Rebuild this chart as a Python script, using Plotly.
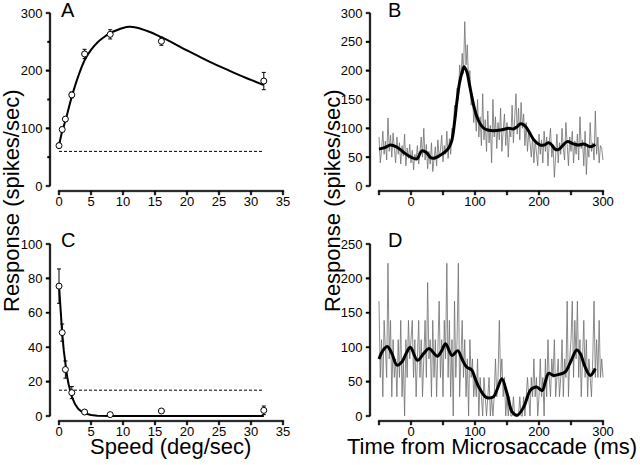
import plotly.graph_objects as go

# ---------------- data ----------------
# Panel A: speed tuning (excitatory)
speed = [0, 0.5, 1, 2, 4, 8, 16, 32]
a_resp = [70, 98, 116, 158, 229, 263, 251, 182]
a_err = [4, 4, 4, 5, 8, 8, 7, 15]
a_fit_x = [0, 0.5, 1, 2, 3, 4, 5, 6, 7, 8, 9, 10, 11, 12, 14, 16, 18, 20, 22, 24, 26, 28, 30, 32]
a_fit_y = [70, 95, 113, 155, 190, 218, 236, 249, 258, 265, 270, 274, 276, 275, 268, 258, 247, 235, 224, 213, 203, 193, 184, 175]
a_base = [60, 60]
base_x = [0, 32]

# Panel C: speed tuning (suppressed)
c_resp = [75.5, 48.5, 27, 13.6, 2.3, 0.8, 2.9, 3.3]
c_err = [10, 5, 5, 3.5, 1, 0.5, 1, 2.5]
c_fit_x = [0, 0.25, 0.5, 0.75, 1, 1.25, 1.5, 1.75, 2, 2.5, 3, 3.5, 4, 5, 6, 8, 12, 20, 32]
c_fit_y = [76, 60, 48, 38, 30, 23.5, 18.5, 14.5, 11.3, 6.9, 4.2, 2.6, 1.6, 0.6, 0.2, 0.03, 0, 0, 0]
c_base = [15, 15]

# Panel B: PSTH around microsaccades (2 ms bins from -50 to 300 ms)
b_raw = [85, 40, 62, 95, 55, 78, 45, 118, 60, 88, 50, 92, 65, 40, 85, 55, 75, 38, 70, 52, 90, 35, 66, 48, 72,
         40, 62, 28, 55, 45, 70, 38, 58, 85, 50, 100, 45, 72, 30, 60, 38, 75, 25, 55, 68, 35, 80, 50, 62, 88, 42, 70, 55, 95, 48,
         82, 55, 100, 90, 140, 120, 170, 150, 210, 185, 230, 195, 285, 210, 245, 175, 200, 140, 160, 110, 135,
         95, 150, 85, 120, 70, 160, 80, 115, 60, 130, 75, 105, 40, 150, 85, 120, 65, 110, 80, 135, 60, 95, 125, 70,
         110, 50, 100, 85, 140, 75, 120, 160, 90, 135, 80, 145, 100, 125, 70, 110, 60, 95, 75, 50, 85, 40, 80, 60, 35, 90,
         55, 80, 40, 95, 60, 85, 35, 75, 100, 50, 70, 15, 60, 90, 40, 75, 55, 100, 65, 45, 110, 70, 35, 85, 60,
         95, 40, 78, 55, 90, 45, 120, 65, 80, 35, 95, 20, 70, 50, 110, 60, 75, 45, 130, 55, 85, 40, 70, 65, 45]
b_smooth_t = [-50, -40, -32, -20, -10, 0, 9, 17, 24, 30, 35, 45, 55, 60, 64, 68, 72, 76, 80, 83, 87, 91, 95, 99, 103,
              108, 114, 120, 129, 140, 153, 160, 166, 171, 175, 179, 185, 192, 202, 208, 215, 220, 225, 230, 237, 244,
              254, 262, 270, 280, 288]
b_smooth = [64, 67, 71, 66, 57, 50, 47, 61, 58, 50, 48, 53, 61, 68, 80, 110, 149, 180, 198, 207, 199, 178, 155, 135, 120,
            108, 100, 97, 96, 97, 100, 99, 103, 108, 107, 103, 93, 80, 71, 71, 75, 71, 64, 63, 70, 77,
            73, 71, 73, 68, 72]

# Panel D: PSTH (suppressed cell)
d_raw = [167, 56, 111, 28, 139, 83, 56, 222, 83, 139, 28, 111, 56, 83, 28, 111, 56, 139, 28, 83, 0, 111, 56, 139, 83,
         111, 139, 56, 111, 28, 83, 139, 56, 111, 28, 83, 139, 56, 194, 83, 111, 28, 139, 56, 111, 28, 83, 167, 56, 111, 28, 139, 83, 222, 56,
         139, 28, 111, 0, 167, 56, 111, 222, 28, 83, 139, 56, 111, 28, 83, 0, 111, 56, 83, 28, 56,
         28, 83, 0, 56, 28, 0, 56, 28, 0, 28, 56, 0, 28, 0, 28, 83, 28, 56, 139, 56, 83, 28, 56, 0,
         28, 0, 28, 0, 0, 28, 0, 0, 0, 0, 28, 0, 0, 28, 0, 28, 56, 28, 0, 56, 28, 83, 28, 56, 0, 28,
         83, 28, 56, 0, 83, 28, 111, 56, 28, 83, 56, 111, 28, 56, 83, 28, 56, 111, 28, 83, 56, 167, 28, 83,
         111, 167, 56, 139, 83, 167, 56, 111, 28, 83, 139, 56, 111, 28, 83, 56, 28, 83, 167, 56, 111, 56, 139, 56, 83, 56]
d_smooth_t = [-50, -44, -37, -30, -22, -14, -7, -1, 10, 20, 28, 41, 48, 54, 64, 73, 80, 87, 95, 100, 106, 116, 122, 129,
              136, 142, 150, 158, 166, 176, 186, 191, 197, 205, 210, 215, 223, 233, 241, 250, 259, 265, 270, 280, 288]
d_smooth = [83, 95, 101, 91, 74, 79, 92, 100, 81, 91, 98, 87, 95, 105, 88, 95, 82, 71, 67, 55, 42, 28, 26, 28,
            42, 54, 33, 6, 1, 13, 37, 41, 42, 37, 50, 62, 59, 61, 64, 80, 96, 90, 76, 59, 69]

# tick labels / positions
time_ticks = [-50, 0, 50, 100, 150, 200, 250, 300]
time_ticktext = ['', '0', '', '100', '', '200', '', '300']
speed_ticks = [0, 5, 10, 15, 20, 25, 30, 35]
a_yticks = [0, 100, 200, 300]
a_yminor = [50, 150, 250]
b_yticks = [0, 50, 100, 150, 200, 250, 300]
c_yticks = [0, 20, 40, 60, 80, 100]
d_yticks = [0, 50, 100, 150, 200, 250]

b_t = list(range(-50, 301, 2))

# ---------------- layout helpers ----------------
W, H = 640, 465


def fx(px):
    return px / W


def fy(py):
    return (H - py) / H


FONT = 'Liberation Sans, Arial, Helvetica, sans-serif'
TICKFONT = dict(family=FONT, size=13, color='black')
TICKLEN = 4
LW = 1.6  # axis line thickness in px

fig = go.Figure()

label_style = dict(showline=False, ticks='outside', ticklen=TICKLEN, tickwidth=1, tickcolor='rgba(0,0,0,0)',
                   showgrid=False, zeroline=False, automargin=False, tickfont=TICKFONT)
hidden = dict(visible=False, showgrid=False, zeroline=False, automargin=False)

layout_axes = {}


def rects(boxes):
    """Filled thin rectangles (x0, x1, y0, y1) joined with gaps."""
    xs, ys = [], []
    for x0, x1, y0, y1 in boxes:
        xs += [x0, x1, x1, x0, x0, None]
        ys += [y0, y0, y1, y1, y0, None]
    return xs, ys


def add_rects(boxes, xa, ya):
    xs, ys = rects(boxes)
    fig.add_trace(go.Scatter(x=xs, y=ys, mode='lines', fill='toself', fillcolor='black',
                             line=dict(color='black', width=0.4), xaxis=xa, yaxis=ya, hoverinfo='skip'))


def panel(idx, yline_px, xstart_px, xend_px, ytop_px, ybot_px, xaxline_px, xr, yr, xticks, xtext, yticks,
          yminor=()):
    dx = 2 * idx - 1          # data x/y axis number
    dd = 2 * idx              # display x axis number
    xspan = (xr[1] - xr[0]) / (xend_px - xstart_px)
    yspan = (yr[1] - yr[0]) / (ybot_px - ytop_px)
    left_px = yline_px - 7
    layout_axes['xaxis%d' % dx] = dict(hidden, domain=[fx(left_px), fx(xend_px + 2)],
                                        range=[xr[0] - (xstart_px - left_px) * xspan, xr[1] + 2 * xspan],
                                        anchor='y%d' % dx)
    layout_axes['yaxis%d' % dx] = dict(label_style, domain=[fy(ybot_px + 3), fy(ytop_px - 3)],
                                        range=[yr[0] - 3 * yspan, yr[1] + 3 * yspan],
                                        anchor='x%d' % dx, tickmode='array', tickvals=yticks,
                                        ticklabelstandoff=-7)
    xkw = dict(tickmode='array', tickvals=xticks)
    if xtext is not None:
        xkw['ticktext'] = xtext
    layout_axes['xaxis%d' % dd] = dict(label_style, domain=[fx(xstart_px - 3), fx(xend_px + 3)],
                                        range=[xr[0] - 3 * xspan, xr[1] + 3 * xspan],
                                        anchor='y%d' % dd, ticklabelstandoff=-12, **xkw)
    # display y axis measured in pixels above the x-axis line
    layout_axes['yaxis%d' % dd] = dict(hidden, domain=[fy(xaxline_px + 6), fy(xaxline_px - 2)], range=[-6, 2],
                                        anchor='x%d' % dd)
    xd, yd = 'x%d' % dd, 'y%d' % dd
    xa, ya = 'x%d' % dx, 'y%d' % dx
    hw = LW / 2
    # y axis line + ticks (in the data subplot's coordinates)
    xl = xr[0] - (xstart_px - yline_px) * xspan
    boxes = [(xl - hw * xspan, xl + hw * xspan, yr[0], yr[1])]
    for v in yticks:
        boxes.append((xl - TICKLEN * xspan, xl, v - hw * yspan, v + hw * yspan))
    for v in yminor:
        boxes.append((xl - 2.5 * xspan, xl, v - hw * yspan, v + hw * yspan))
    add_rects(boxes, xa, ya)
    # x axis line + ticks (display subplot, y in px above the line)
    boxes = [(xr[0] - hw * xspan, xr[1] + hw * xspan, -hw, hw)]
    for v in xticks:
        boxes.append((v - hw * xspan, v + hw * xspan, -TICKLEN, 0))
    add_rects(boxes, xd, yd)
    return (xa, ya)


axA = panel(1, 50, 59, 283, 13, 186, 191, [0, 35], [0, 300], speed_ticks, None, a_yticks, a_yminor)
axB = panel(2, 370, 379, 603, 13, 186, 191, [-50, 300], [0, 300], time_ticks, time_ticktext, b_yticks)
axC = panel(3, 50, 59, 283, 244, 416, 421, [0, 35], [0, 100], speed_ticks, None, c_yticks)
axD = panel(4, 370, 379, 603, 244, 416, 421, [-50, 300], [0, 250], time_ticks, time_ticktext, d_yticks)

# Panel A
fig.add_trace(go.Scatter(x=base_x, y=a_base, mode='lines', line=dict(color='black', width=1, dash='3px,2px'),
                         xaxis=axA[0], yaxis=axA[1], hoverinfo='skip'))
fig.add_trace(go.Scatter(x=a_fit_x, y=a_fit_y, mode='lines', line=dict(color='black', width=2, shape='spline'),
                         xaxis=axA[0], yaxis=axA[1]))
fig.add_trace(go.Scatter(x=speed, y=a_resp, mode='markers',
                         marker=dict(symbol='circle', size=6, color='white', line=dict(color='black', width=1)),
                         error_y=dict(type='data', array=a_err, color='black', thickness=1, width=2),
                         xaxis=axA[0], yaxis=axA[1]))

# Panel C
fig.add_trace(go.Scatter(x=base_x, y=c_base, mode='lines', line=dict(color='black', width=1, dash='3px,2px'),
                         xaxis=axC[0], yaxis=axC[1], hoverinfo='skip'))
fig.add_trace(go.Scatter(x=c_fit_x, y=c_fit_y, mode='lines', line=dict(color='black', width=2),
                         xaxis=axC[0], yaxis=axC[1]))
fig.add_trace(go.Scatter(x=speed, y=c_resp, mode='markers',
                         marker=dict(symbol='circle', size=6, color='white', line=dict(color='black', width=1)),
                         error_y=dict(type='data', array=c_err, color='black', thickness=1, width=2),
                         xaxis=axC[0], yaxis=axC[1]))

# Panel B
fig.add_trace(go.Scatter(x=b_t, y=b_raw, mode='lines', line=dict(color='#6e6e6e', width=0.8),
                         xaxis=axB[0], yaxis=axB[1]))
fig.add_trace(go.Scatter(x=b_smooth_t, y=b_smooth, mode='lines', line=dict(color='black', width=3, shape='spline'),
                         xaxis=axB[0], yaxis=axB[1]))

# Panel D
fig.add_trace(go.Scatter(x=b_t, y=d_raw, mode='lines', line=dict(color='#6e6e6e', width=0.8),
                         xaxis=axD[0], yaxis=axD[1]))
fig.add_trace(go.Scatter(x=d_smooth_t, y=d_smooth, mode='lines', line=dict(color='black', width=3, shape='spline'),
                         xaxis=axD[0], yaxis=axD[1]))

fig.update_layout(
    width=W, height=H, margin=dict(l=0, r=0, t=0, b=0, pad=0, autoexpand=False),
    paper_bgcolor='white', plot_bgcolor='rgba(0,0,0,0)', showlegend=False,
    **layout_axes
)

ann = []
for letter, px, py in [('A', 59, -3), ('B', 386, -3), ('C', 59, 227), ('D', 386, 227)]:
    ann.append(dict(text=letter, x=fx(px), y=fy(py), xref='paper', yref='paper', xanchor='left', yanchor='top',
                    showarrow=False, font=dict(family=FONT, size=20, color='black')))
for px in [11, 332]:
    ann.append(dict(text='Response (spikes/sec)', x=fx(px), y=fy(201), xref='paper', yref='paper',
                    xanchor='center', yanchor='middle', textangle=-90, showarrow=False,
                    font=dict(family=FONT, size=22, color='black')))
ann.append(dict(text='Speed (deg/sec)', x=fx(170), y=fy(446), xref='paper', yref='paper', xanchor='center',
                yanchor='middle', showarrow=False, font=dict(family=FONT, size=22, color='black')))
ann.append(dict(text='Time from Microsaccade (ms)', x=fx(492), y=fy(446), xref='paper', yref='paper',
                xanchor='center', yanchor='middle', showarrow=False, font=dict(family=FONT, size=22, color='black')))
fig.update_layout(annotations=ann)

fig.write_html('out.html', config={'displayModeBar': False},
               post_script="document.body.style.margin='0px';")
